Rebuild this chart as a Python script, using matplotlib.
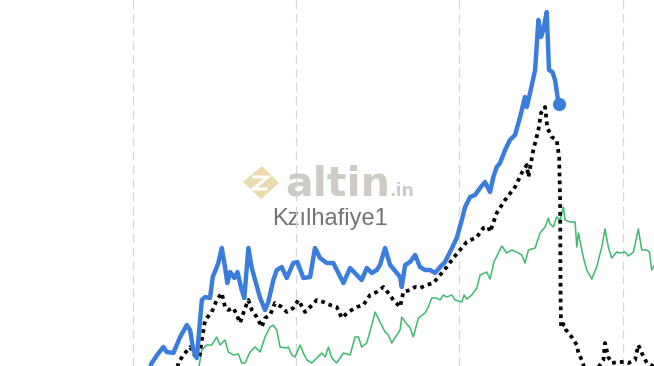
import matplotlib
matplotlib.use("Agg")
import matplotlib.pyplot as plt
from matplotlib.patches import Polygon

# ---- data (x in decimal years, y in arbitrary index units) ----
blue_x = [2019.100, 2019.116, 2019.149, 2019.187, 2019.208, 2019.249, 2019.290, 2019.331, 2019.351,
          2019.371, 2019.392, 2019.423, 2019.443, 2019.473, 2019.490, 2019.524, 2019.545, 2019.565,
          2019.579, 2019.596, 2019.622, 2019.641, 2019.667, 2019.683, 2019.708, 2019.729, 2019.749,
          2019.780, 2019.810, 2019.830, 2019.861, 2019.882, 2019.912, 2019.943, 2019.983, 2020.008,
          2020.045, 2020.086, 2020.116, 2020.147, 2020.188, 2020.228, 2020.259, 2020.290, 2020.331,
          2020.372, 2020.402, 2020.433, 2020.464, 2020.494, 2020.514, 2020.545, 2020.576, 2020.617,
          2020.637, 2020.647, 2020.668, 2020.698, 2020.729, 2020.759, 2020.790, 2020.821, 2020.851,
          2020.882, 2020.912, 2020.943, 2020.984, 2021.015, 2021.035, 2021.066, 2021.096, 2021.127,
          2021.157, 2021.188, 2021.208, 2021.229, 2021.249, 2021.280, 2021.310, 2021.341, 2021.372,
          2021.402, 2021.413, 2021.433, 2021.464, 2021.484, 2021.500, 2021.514, 2021.535, 2021.549,
          2021.570, 2021.586, 2021.608]
blue_y = [-4, 3, 11, 19, 14, 13, 29, 41, 36,
          16, 8, 66, 69, 68, 89, 103, 118, 99,
          83, 94, 88, 94, 76, 68, 118, 98, 86,
          68, 56, 64, 86, 96, 99, 88, 103, 104,
          88, 89, 118, 108, 103, 103, 93, 83, 98,
          91, 86, 98, 93, 96, 101, 118, 101, 93,
          89, 79, 101, 104, 111, 99, 96, 96, 93,
          99, 104, 114, 128, 146, 159, 169, 171, 178,
          184, 174, 189, 199, 203, 216, 226, 231, 249,
          269, 259, 273, 296, 346, 329, 336, 354, 296,
          294, 286, 262]

black_x = [2019.271, 2019.279, 2019.310, 2019.351, 2019.382, 2019.408, 2019.423, 2019.443, 2019.484,
           2019.514, 2019.545, 2019.565, 2019.585, 2019.616, 2019.637, 2019.657, 2019.688, 2019.708,
           2019.729, 2019.759, 2019.790, 2019.810, 2019.841, 2019.871, 2019.912, 2019.943, 2019.983,
           2020.014, 2020.055, 2020.086, 2020.127, 2020.167, 2020.208, 2020.249, 2020.280, 2020.320,
           2020.372, 2020.412, 2020.453, 2020.494, 2020.535, 2020.565, 2020.596, 2020.637, 2020.657,
           2020.698, 2020.729, 2020.759, 2020.800, 2020.841, 2020.882, 2020.923, 2020.963, 2021.004,
           2021.045, 2021.107, 2021.147, 2021.178, 2021.188, 2021.229, 2021.280, 2021.341, 2021.382,
           2021.413, 2021.423, 2021.453, 2021.484, 2021.500, 2021.525, 2021.539, 2021.566, 2021.596,
           2021.611, 2021.617, 2021.620, 2021.623, 2021.637, 2021.653, 2021.688, 2021.719, 2021.729,
           2021.750, 2021.770, 2021.831, 2021.882, 2021.892, 2021.912, 2021.933, 2021.974, 2022.015,
           2022.035, 2022.076, 2022.096, 2022.117, 2022.148, 2022.186, 2022.229]
black_y = [-4, 3, 11, 19, 10, 9, 26, 46, 54,
           66, 73, 59, 56, 58, 51, 43, 58, 66,
           56, 49, 39, 48, 51, 63, 59, 54, 58,
           66, 54, 59, 66, 64, 61, 59, 48, 54,
           59, 61, 71, 74, 79, 73, 66, 59, 74,
           76, 79, 78, 81, 83, 91, 99, 108, 116,
           124, 129, 138, 139, 134, 153, 166, 179, 193,
           201, 189, 216, 236, 253, 259, 238, 229, 226,
           209, 166, 66, 38, 42, 36, 29, 21, 13,
           6, -4, -6, 6, 23, 9, 3, 4, 4,
           3, 6, 21, 13, 3, 0, -4]

green_x = [2019.400, 2019.423, 2019.453, 2019.484, 2019.514, 2019.535, 2019.565, 2019.585, 2019.616,
           2019.647, 2019.667, 2019.688, 2019.718, 2019.749, 2019.780, 2019.810, 2019.841, 2019.861,
           2019.882, 2019.902, 2019.943, 2019.953, 2019.974, 2019.994, 2020.025, 2020.045, 2020.066,
           2020.096, 2020.127, 2020.157, 2020.178, 2020.198, 2020.219, 2020.249, 2020.290, 2020.331,
           2020.361, 2020.382, 2020.402, 2020.433, 2020.464, 2020.484, 2020.514, 2020.545, 2020.565,
           2020.586, 2020.617, 2020.637, 2020.647, 2020.668, 2020.698, 2020.718, 2020.749, 2020.790,
           2020.810, 2020.831, 2020.862, 2020.882, 2020.902, 2020.923, 2020.953, 2020.974, 2021.015,
           2021.029, 2021.045, 2021.076, 2021.107, 2021.127, 2021.168, 2021.188, 2021.212, 2021.260,
           2021.290, 2021.321, 2021.352, 2021.382, 2021.402, 2021.423, 2021.464, 2021.494, 2021.525,
           2021.545, 2021.555, 2021.576, 2021.596, 2021.617, 2021.637, 2021.647, 2021.678, 2021.709,
           2021.719, 2021.729, 2021.759, 2021.780, 2021.811, 2021.841, 2021.872, 2021.892, 2021.912,
           2021.933, 2021.964, 2021.984, 2022.015, 2022.035, 2022.066, 2022.096, 2022.117, 2022.148,
           2022.164, 2022.178, 2022.205]
green_y = [-6, 16, 21, 21, 29, 21, 26, 14, 11,
           12, 3, 3, 14, 19, 14, 29, 39, 41,
           36, 19, 18, 19, 11, 9, 21, 13, 6,
           3, 8, 13, 9, 19, 8, 3, 13, 11,
           29, 29, 19, 23, 41, 54, 44, 34, 31,
           23, 31, 36, 49, 44, 38, 29, 48, 53,
           59, 68, 68, 66, 71, 69, 71, 66, 64,
           71, 67, 71, 78, 91, 94, 87, 104, 120,
           113, 116, 114, 111, 103, 116, 118, 133, 139,
           148, 142, 139, 149, 146, 159, 146, 144, 144,
           119, 133, 109, 96, 87, 99, 119, 137, 119,
           108, 114, 113, 114, 110, 114, 137, 116, 116,
           114, 96, 104]

grid_years = [2019, 2020, 2021, 2022]
x_range = (2018.187, 2022.192)
y_range = (0, 366)

BLUE = "#3b7ddd"
GREEN = "#3dba6e"

fig = plt.figure(figsize=(6.54, 3.66), dpi=100)
fig.patch.set_facecolor("white")

# watermark layer (pixel coordinates)
wm = fig.add_axes([0, 0, 1, 1], zorder=0)
wm.set_xlim(0, 654)
wm.set_ylim(366, 0)
wm.axis("off")
gold = "#e9d9ab"
wm.add_patch(Polygon([(262, 166), (279, 183), (261, 199), (243, 182)], closed=True,
                     facecolor=gold, edgecolor="none"))
wm.plot([254, 268, 253, 266], [177, 177, 189, 189], color="white", lw=2.2,
        solid_joinstyle="miter")
wm.text(285, 196, "altin", fontsize=29.5, fontweight="bold", family="DejaVu Sans",
        color="#cdcbc3", ha="left", va="baseline")
wm.text(389, 196, ".in", fontsize=12.5, fontweight="bold", family="DejaVu Sans",
        color="#cdcbc3", ha="left", va="baseline")
wm.text(330, 218.5, "Kzılhafiye1", fontsize=17, family="Liberation Sans",
        color="#747474", ha="center", va="center")

ax = fig.add_axes([0, 0, 1, 1], zorder=1)
ax.patch.set_alpha(0)
ax.set_xlim(*x_range)
ax.set_ylim(*y_range)
for s in ax.spines.values():
    s.set_visible(False)
ax.set_xticks([])
ax.set_yticks([])

for g in grid_years:
    ax.axvline(g, color="#d6d6d6", lw=0.9, dashes=(7, 4), zorder=0)

ax.plot(green_x, green_y, color=GREEN, lw=1.1, zorder=2)
ax.plot(black_x, black_y, color="black", lw=2.7, linestyle=(0, (1, 1.1)),
        dash_capstyle="butt", zorder=3)
ax.plot(blue_x, blue_y, color=BLUE, lw=3.2, solid_joinstyle="round", zorder=4)
ax.plot(blue_x[-1], blue_y[-1], "o", color=BLUE, ms=8.5, zorder=5)

fig.savefig("out.png", dpi=100)
